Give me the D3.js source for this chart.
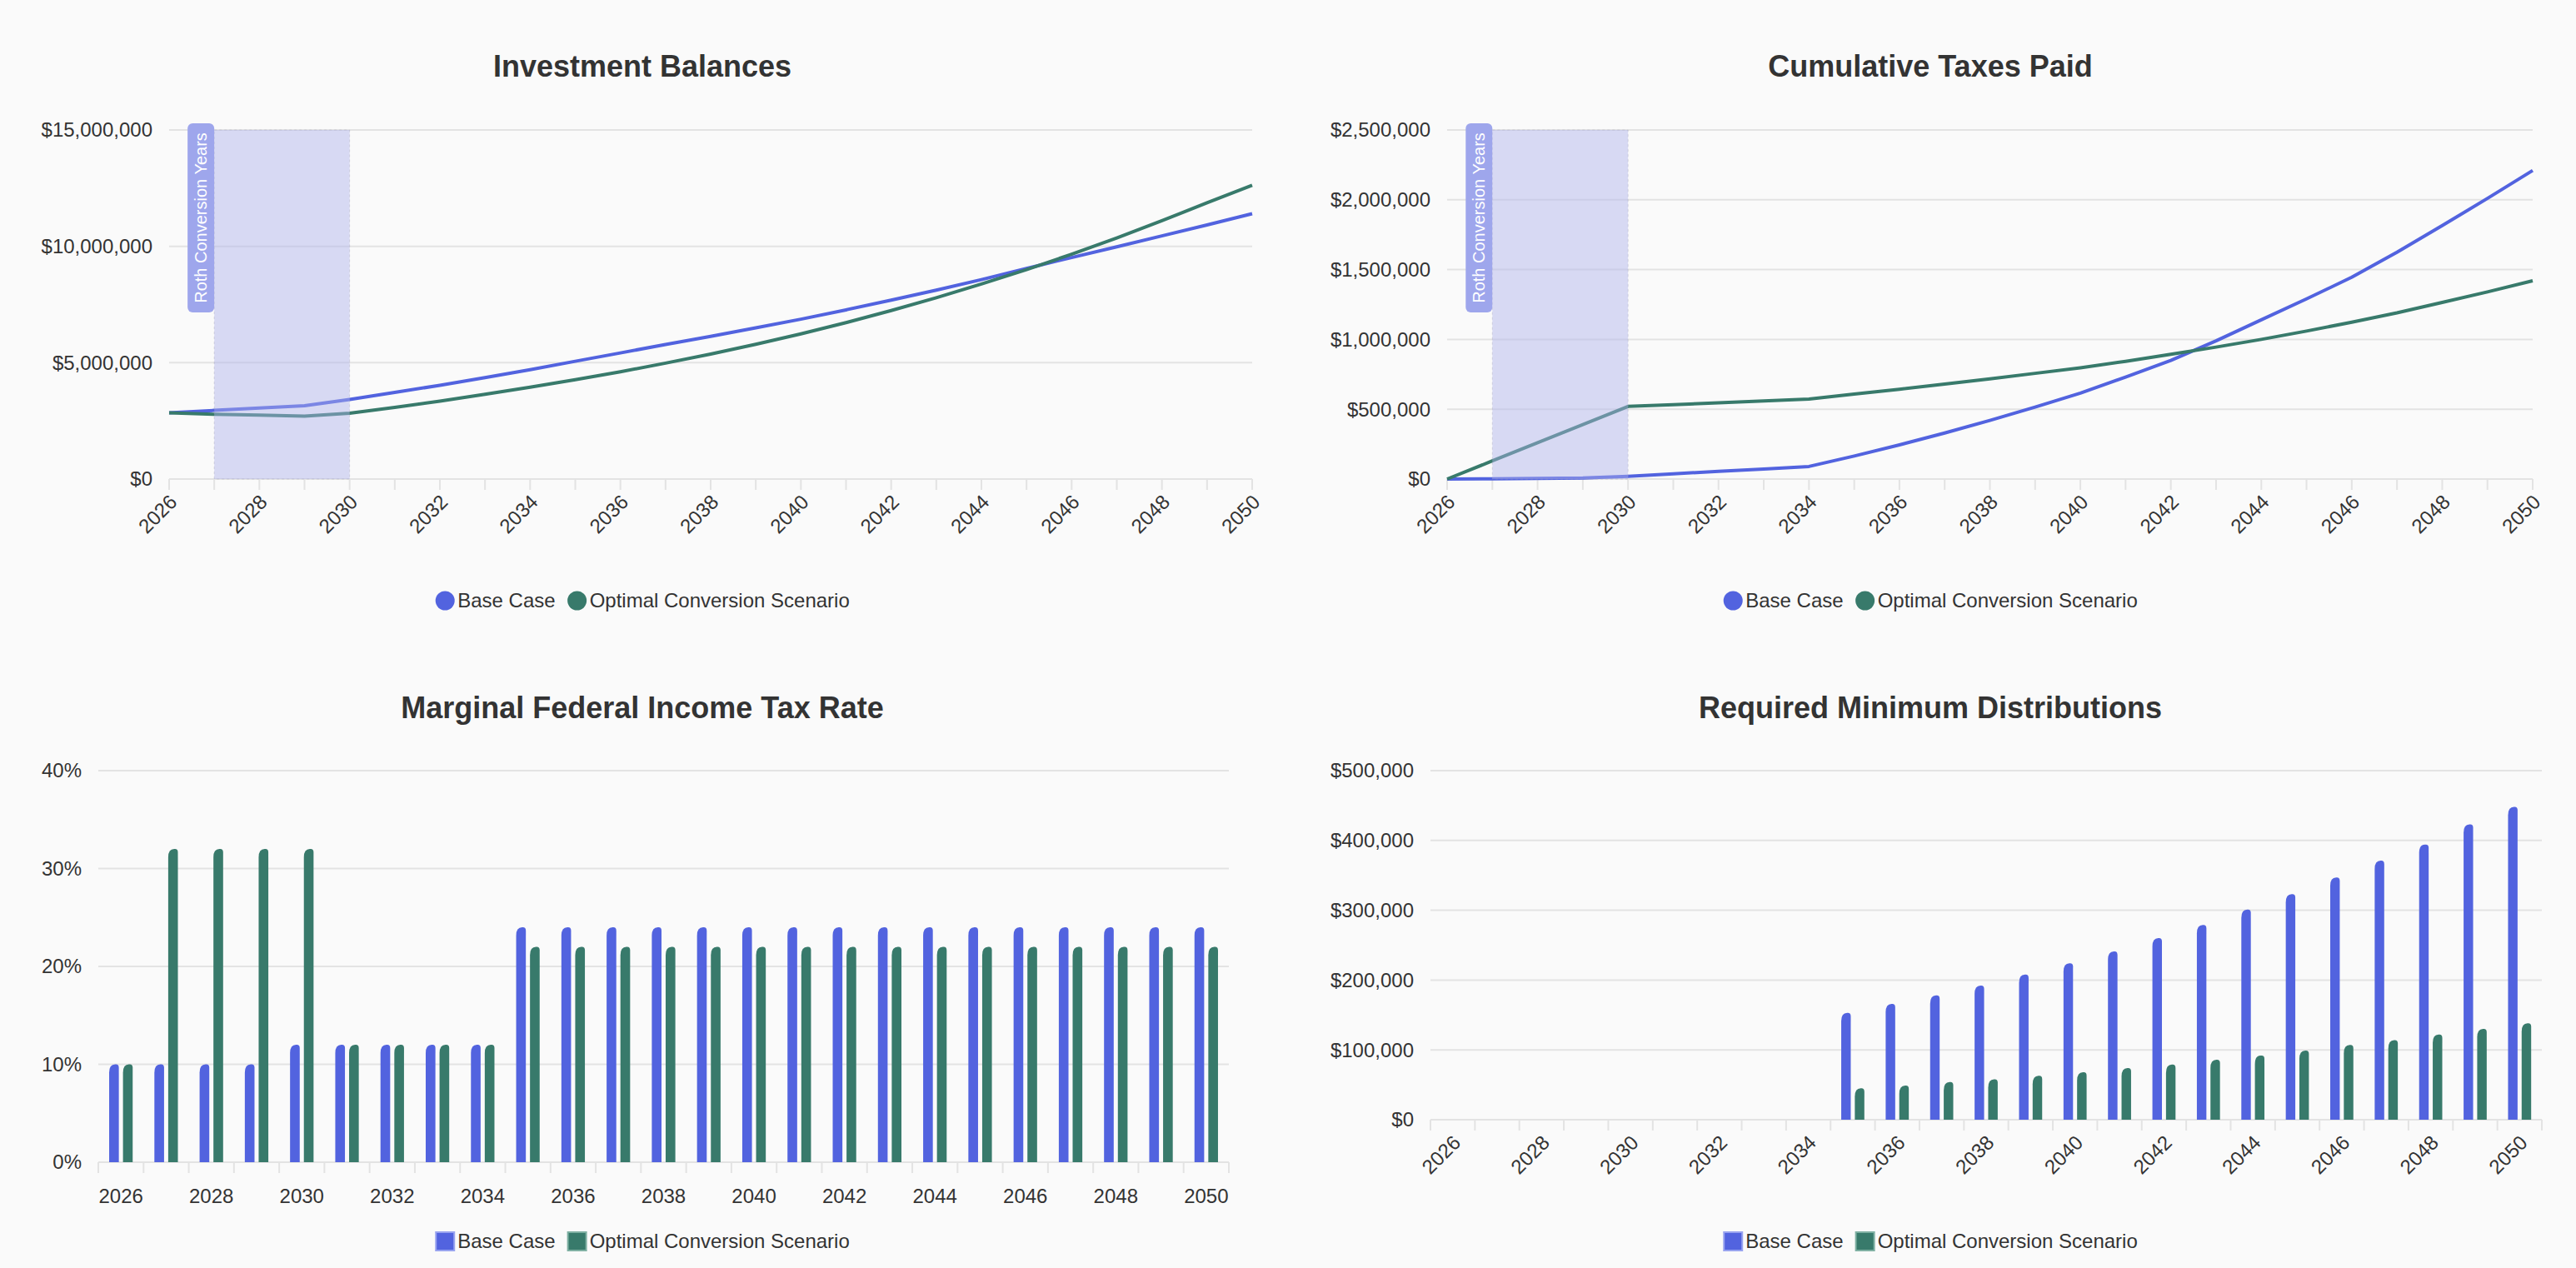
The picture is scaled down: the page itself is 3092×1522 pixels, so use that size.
<!DOCTYPE html>
<html>
<head>
<meta charset="utf-8">
<script src="https://cdn.jsdelivr.net/npm/d3@7"></script>
<style>
    html, body { margin: 0; padding: 0; background: #fafafa; }
    svg { display: block; font-family: "Liberation Sans", Arial, Helvetica, sans-serif; }
</style>
</head>
<body>
<div id="charts"></div>
<script>
// ---- data ----
var years = [2026, 2027, 2028, 2029, 2030, 2031, 2032, 2033, 2034, 2035, 2036, 2037, 2038,
    2039, 2040, 2041, 2042, 2043, 2044, 2045, 2046, 2047, 2048, 2049, 2050];
var seriesNames = ["Base Case", "Optimal Conversion Scenario"];
var conversionYears = [2027, 2030];

var balanceBase = [2850000, 2950000, 3050000, 3150000, 3420000, 3720000, 4030000, 4360000,
    4700000, 5060000, 5420000, 5780000, 6130000, 6500000, 6870000, 7270000, 7690000, 8120000,
    8570000, 9050000, 9520000, 9980000, 10450000, 10920000, 11400000];
var balanceOptimal = [2850000, 2780000, 2750000, 2700000, 2830000, 3080000, 3350000, 3640000,
    3950000, 4270000, 4610000, 4980000, 5370000, 5790000, 6240000, 6720000, 7240000, 7790000,
    8380000, 9000000, 9660000, 10360000, 11100000, 11870000, 12620000];
var balanceTicks = [0, 5000000, 10000000, 15000000];

var taxesBase = [0, 2000, 4000, 7000, 20000, 38000, 55000, 72000, 90000, 165000, 245000,
    330000, 420000, 515000, 615000, 730000, 850000, 990000, 1140000, 1290000, 1445000,
    1625000, 1815000, 2010000, 2210000];
var taxesOptimal = [0, 130000, 260000, 390000, 520000, 533000, 546000, 560000, 573000, 608000,
    643000, 680000, 717000, 757000, 797000, 843000, 893000, 945000, 1000000, 1060000, 1123000,
    1190000, 1265000, 1340000, 1420000];
var taxesTicks = [0, 500000, 1000000, 1500000, 2000000, 2500000];

var rateBase = [10, 10, 10, 10, 12, 12, 12, 12, 12, 24, 24, 24, 24, 24, 24, 24, 24, 24, 24,
    24, 24, 24, 24, 24, 24];
var rateOptimal = [10, 32, 32, 32, 32, 12, 12, 12, 12, 22, 22, 22, 22, 22, 22, 22, 22, 22, 22,
    22, 22, 22, 22, 22, 22];
var rateTicks = [0, 10, 20, 30, 40];

var rmdBase = [null, null, null, null, null, null, null, null, null, 153000, 166000, 178000,
    192000, 208000, 224000, 241000, 260000, 279000, 301000, 323000, 347000, 371000, 394000,
    423000, 448000];
var rmdOptimal = [null, null, null, null, null, null, null, null, null, 45000, 49000, 54000,
    58000, 63000, 68000, 74000, 79000, 86000, 92000, 99000, 107000, 114000, 122000, 130000,
    138000];
var rmdTicks = [0, 100000, 200000, 300000, 400000, 500000];

// ---- styles ----
var colors = ["#5263df", "#387a6b"];
var lightColors = ["#98a3f0", "#7fb0a3"];
var textColor = "#333";
var gridColor = "#e3e3e3";

var W = 3092, H = 1522;

var svg = d3.select("#charts").append("svg")
    .attr("width", W)
    .attr("height", H);

svg.append("rect")
    .attr("width", W)
    .attr("height", H)
    .attr("fill", "#fafafa");

var money = function(v) { return "$" + d3.format(",")(v); };
var percent = function(v) { return v + "%"; };

function drawTitle(g, text, cx, y) {
    g.append("text")
        .attr("x", cx)
        .attr("y", y)
        .attr("text-anchor", "middle")
        .attr("font-size", 36)
        .attr("font-weight", "bold")
        .attr("fill", textColor)
        .text(text);
}

function drawLegend(g, cx, cy, shape) {
    var lg = g.append("g");
    var xpos = 0;
    seriesNames.forEach(function(name, i) {
        var item = lg.append("g").attr("transform", "translate(" + xpos + ",0)");
        if (shape === "circle") {
            item.append("circle")
                .attr("cx", 12)
                .attr("cy", 0)
                .attr("r", 11.5)
                .attr("fill", colors[i]);
        } else {
            item.append("rect")
                .attr("x", 1)
                .attr("y", -11)
                .attr("width", 22)
                .attr("height", 22)
                .attr("fill", colors[i])
                .attr("stroke", lightColors[i])
                .attr("stroke-width", 2);
        }
        var t = item.append("text")
            .attr("x", 27)
            .attr("y", 0)
            .attr("dy", "0.35em")
            .attr("font-size", 24)
            .attr("fill", textColor)
            .text(name);
        xpos += 27 + t.node().getComputedTextLength() + 14;
    });
    var total = xpos - 14;
    lg.attr("transform", "translate(" + (cx - total / 2) + "," + cy + ")");
}

function drawYAxis(g, y, ticks, fmt, left, right) {
    g.append("g").selectAll("line")
        .data(ticks)
        .enter().append("line")
        .attr("x1", left)
        .attr("x2", right)
        .attr("y1", function(d) { return y(d); })
        .attr("y2", function(d) { return y(d); })
        .attr("stroke", gridColor)
        .attr("stroke-width", 2);

    g.append("g").selectAll("text")
        .data(ticks)
        .enter().append("text")
        .attr("x", left - 20)
        .attr("y", function(d) { return y(d); })
        .attr("dy", "0.35em")
        .attr("text-anchor", "end")
        .attr("font-size", 24)
        .attr("fill", textColor)
        .text(fmt);
}

function drawRotatedLabels(g, xs, bottom) {
    g.append("g").selectAll("text")
        .data(xs)
        .enter().append("text")
        .attr("transform", function(d) {
            return "translate(" + (d.x + 5) + "," + (bottom + 23) + ") rotate(-45)";
        })
        .attr("text-anchor", "end")
        .attr("dy", "0.35em")
        .attr("font-size", 24)
        .attr("fill", textColor)
        .text(function(d) { return d.label; });
}

function drawLineChart(opt) {
    var g = svg.append("g");
    var x = d3.scalePoint().domain(years).range([opt.left, opt.right]).padding(0);
    var y = d3.scaleLinear().domain([0, d3.max(opt.ticks)]).range([opt.bottom, opt.top]);

    drawTitle(g, opt.title, opt.cx, opt.titleY);
    drawYAxis(g, y, opt.ticks, money, opt.left, opt.right);

    // tick marks under the axis at every year
    g.append("g").selectAll("line")
        .data(years)
        .enter().append("line")
        .attr("x1", function(d) { return x(d); })
        .attr("x2", function(d) { return x(d); })
        .attr("y1", opt.bottom)
        .attr("y2", opt.bottom + 13)
        .attr("stroke", gridColor)
        .attr("stroke-width", 2);

    drawRotatedLabels(g, years.filter(function(d, i) { return i % 2 === 0; })
        .map(function(d) { return {x: x(d), label: d}; }), opt.bottom);

    var line = d3.line()
        .x(function(d, i) { return x(years[i]); })
        .y(function(d) { return y(d); });

    opt.series.forEach(function(s, i) {
        g.append("path")
            .datum(s)
            .attr("d", line)
            .attr("fill", "none")
            .attr("stroke", colors[i])
            .attr("stroke-width", 4)
            .attr("stroke-linejoin", "round");
    });

    // conversion-years band, drawn over the lines so they show through washed out
    var bx0 = x(conversionYears[0]), bx1 = x(conversionYears[1]);
    g.append("rect")
        .attr("x", bx0)
        .attr("y", opt.top)
        .attr("width", bx1 - bx0)
        .attr("height", opt.bottom - opt.top)
        .attr("fill", "rgba(172,178,236,0.45)")
        .attr("stroke", "rgba(160,160,180,0.35)")
        .attr("stroke-dasharray", "3,3")
        .attr("stroke-width", 1);

    var badge = g.append("g")
        .attr("transform", "translate(" + (bx0 - 32) + "," + (opt.top - 8) + ")");
    badge.append("rect")
        .attr("width", 32)
        .attr("height", 227)
        .attr("rx", 6)
        .attr("fill", "#9ea6ec");
    badge.append("text")
        .attr("transform", "translate(16,113.5) rotate(-90)")
        .attr("text-anchor", "middle")
        .attr("dy", "0.36em")
        .attr("font-size", 20)
        .attr("fill", "#fff")
        .text("Roth Conversion Years");

    drawLegend(g, opt.cx, opt.legendY, "circle");
}

// bar with a rounded, slightly lopsided top
function barPath(x, top, w, base) {
    var h = base - top;
    if (h <= 0) return "";
    var ryL = Math.min(10, h), rxL = w * 0.62;
    var ryR = Math.min(4, h), rxR = w * 0.3;
    return "M" + x + "," + base +
        "L" + x + "," + (top + ryL) +
        "Q" + x + "," + top + "," + (x + rxL) + "," + top +
        "L" + (x + w - rxR) + "," + top +
        "Q" + (x + w) + "," + top + "," + (x + w) + "," + (top + ryR) +
        "L" + (x + w) + "," + base + "Z";
}

function drawBarChart(opt) {
    var g = svg.append("g");
    var x0 = d3.scaleBand().domain(years).range([opt.left, opt.right]).padding(0);
    var x1 = d3.scaleBand().domain([0, 1]).range([0, x0.bandwidth()])
        .paddingInner(0.3).paddingOuter(0.785);
    var y = d3.scaleLinear().domain([0, d3.max(opt.ticks)]).range([opt.bottom, opt.top]);

    drawTitle(g, opt.title, opt.cx, opt.titleY);
    drawYAxis(g, y, opt.ticks, opt.format, opt.left, opt.right);

    // tick marks at category boundaries
    var bounds = years.map(function(d) { return x0(d); }).concat([opt.right]);
    g.append("g").selectAll("line")
        .data(bounds)
        .enter().append("line")
        .attr("x1", function(d) { return d; })
        .attr("x2", function(d) { return d; })
        .attr("y1", opt.bottom)
        .attr("y2", opt.bottom + 13)
        .attr("stroke", gridColor)
        .attr("stroke-width", 2);

    var labelYears = years.filter(function(d, i) { return i % 2 === 0; });
    if (opt.rotate) {
        drawRotatedLabels(g, labelYears.map(function(d) {
            return {x: x0(d) + x0.bandwidth() / 2, label: d};
        }), opt.bottom);
    } else {
        g.append("g").selectAll("text")
            .data(labelYears)
            .enter().append("text")
            .attr("x", function(d) { return x0(d) + x0.bandwidth() / 2; })
            .attr("y", opt.bottom + 41)
            .attr("dy", "0.35em")
            .attr("text-anchor", "middle")
            .attr("font-size", 24)
            .attr("fill", textColor)
            .text(function(d) { return d; });
    }

    opt.series.forEach(function(s, i) {
        g.append("g").selectAll("path")
            .data(s.map(function(v, k) { return {year: years[k], value: v}; })
                .filter(function(d) { return d.value !== null; }))
            .enter().append("path")
            .attr("d", function(d) {
                return barPath(x0(d.year) + x1(i), y(d.value), x1.bandwidth(), opt.bottom);
            })
            .attr("fill", colors[i]);
    });

    drawLegend(g, opt.cx, opt.legendY, "rect");
}

drawLineChart({
    title: "Investment Balances",
    series: [balanceBase, balanceOptimal],
    ticks: balanceTicks,
    left: 203, right: 1503, top: 156, bottom: 575,
    cx: 771, titleY: 92, legendY: 721
});

drawLineChart({
    title: "Cumulative Taxes Paid",
    series: [taxesBase, taxesOptimal],
    ticks: taxesTicks,
    left: 1737, right: 3040, top: 156, bottom: 575,
    cx: 2317, titleY: 92, legendY: 721
});

drawBarChart({
    title: "Marginal Federal Income Tax Rate",
    series: [rateBase, rateOptimal],
    ticks: rateTicks,
    format: percent,
    rotate: false,
    left: 118, right: 1475, top: 925, bottom: 1395,
    cx: 771, titleY: 862, legendY: 1490
});

drawBarChart({
    title: "Required Minimum Distributions",
    series: [rmdBase, rmdOptimal],
    ticks: rmdTicks,
    format: money,
    rotate: true,
    left: 1717, right: 3051, top: 925, bottom: 1344,
    cx: 2317, titleY: 862, legendY: 1490
});
</script>
</body>
</html>
